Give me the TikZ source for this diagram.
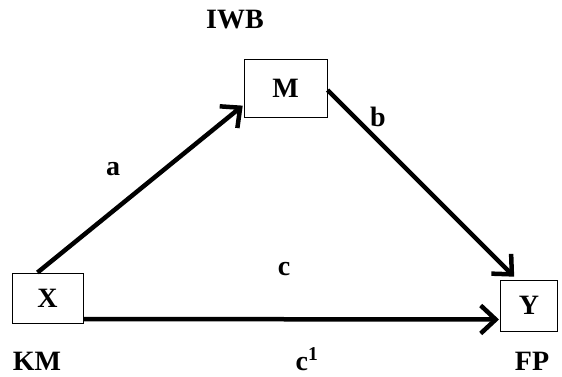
\documentclass[tikz,border=0pt]{standalone}
\usepackage{fontspec}
\setmainfont{Liberation Serif}
\usetikzlibrary{arrows.meta}
\begin{document}
\begin{tikzpicture}[x=1pt,y=-1pt,
  box/.style={draw,line width=1pt,inner sep=0pt,font=\fontsize{28}{32}\selectfont\bfseries},
  lab/.style={inner sep=0pt,anchor=base,font=\fontsize{28}{32}\selectfont\bfseries},
  arr/.style={line width=4.5pt,shorten >=1pt,-{Straight Barb[length=15pt,width=28pt,line width=4.5pt]}}]
\useasboundingbox (0,0) rectangle (562,376);
\node[box,minimum width=71pt,minimum height=50pt] (X) at (47.5,298) {X};
\node[box,minimum width=83pt,minimum height=58pt] (M) at (285.5,88) {M};
\node[box,minimum width=57pt,minimum height=51pt] (Y) at (529,305.5) {Y};
\node[lab] (iwb) at (235,28) {IWB};
\node[lab] (km) at (37,370) {KM};
\node[lab] (fp) at (532,370) {FP};
\node[lab] (c) at (284,275) {c};
\node[lab] (c1) at (307,370) {c\textsuperscript{1}};
\node[lab] (a) at (113,175) {a};
\node[lab] (b) at (378,126) {b};
\draw[arr] ([xshift=-10pt]X.north) -- ([yshift=-17pt]M.west);
\draw[arr,shorten >=4pt] ([yshift=-2pt]M.east) -- ([xshift=-12pt]Y.north);
\draw[arr] ([yshift=-21pt]X.east) -- ([yshift=-14pt]Y.west);
\end{tikzpicture}
\end{document}
